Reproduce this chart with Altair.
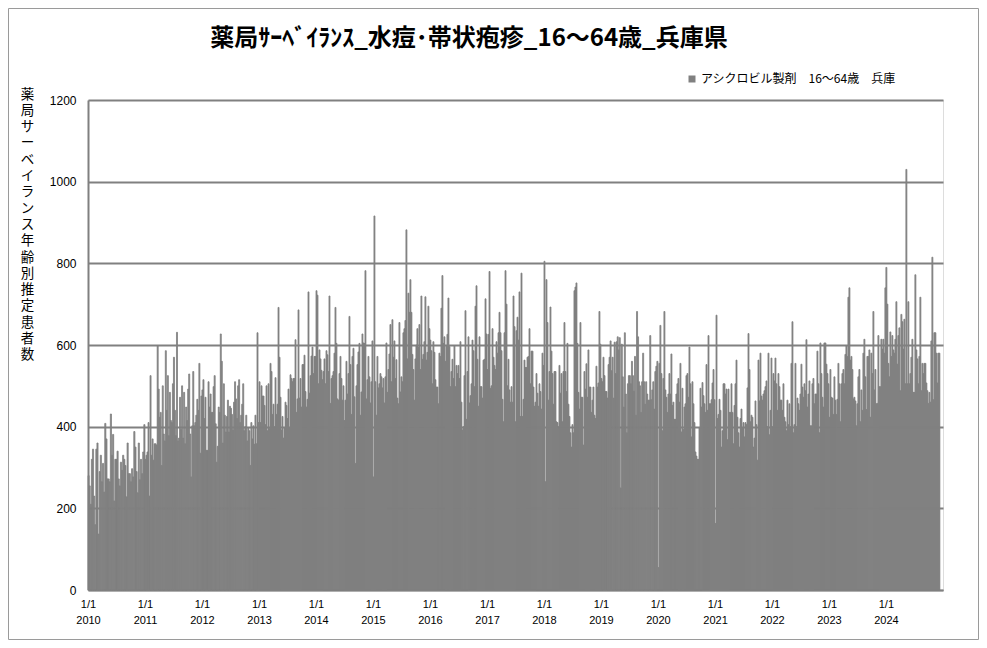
import altair as alt
import pandas as pd
from datetime import datetime, timezone

TITLE = "薬局ｻｰﾍﾞｲﾗﾝｽ_水痘･帯状疱疹_16～64歳_兵庫県"
SERIES = "アシクロビル製剤　16～64歳　兵庫"
Y_TITLE = "薬局サーベイランス年齢別推定患者数"
Y_TICKS = [0, 200, 400, 600, 800, 1000, 1200]
YEARS = list(range(2010, 2025))
LAST_DATE = (2024, 12, 12)

# estimated values, evenly spaced within each year
v2010 = [280, 255, 210, 320, 345, 230, 160, 345, 360, 137, 290, 330, 265, 310, 240, 408, 370, 272, 272, 265,
         431, 330, 381, 218, 320, 320, 340, 272, 255, 313, 293, 330, 320, 305, 228, 360, 285, 285, 265, 297,
         277, 388, 350, 290, 238, 360, 270, 320, 285, 338, 405]
v2011 = [320, 330, 338, 410, 230, 525, 330, 370, 318, 358, 358, 355, 598, 492, 423, 435, 305, 500, 382, 365,
         586, 440, 525, 378, 484, 415, 410, 505, 570, 440, 378, 631, 365, 372, 472, 393, 500, 372, 484, 358,
         448, 415, 492, 529, 382, 277, 402, 535, 402, 410, 428, 467, 440, 555, 335, 475]
v2012 = [490, 515, 420, 472, 342, 342, 510, 448, 480, 435, 435, 498, 525, 407, 313, 352, 448, 435, 627, 560,
         360, 505, 428, 387, 425, 465, 387, 450, 445, 430, 392, 460, 510, 468, 420, 500, 515, 410, 428, 455,
         505, 390, 400, 428, 365, 398, 390, 305, 410, 370, 402, 357, 428, 358, 630, 410]
v2013 = [510, 410, 500, 475, 475, 452, 405, 500, 390, 505, 395, 555, 535, 430, 455, 400, 520, 430, 455, 692,
         570, 472, 392, 425, 372, 398, 460, 452, 420, 492, 398, 527, 518, 510, 518, 518, 613, 435, 468, 686,
         470, 518, 448, 552, 552, 575, 486, 448, 467, 730, 482, 525, 573, 595, 530, 572, 572]
v2014 = [733, 722, 505, 588, 566, 538, 515, 535, 566, 505, 586, 576, 535, 720, 457, 518, 525, 535, 580, 692,
         604, 468, 465, 530, 572, 518, 465, 500, 415, 465, 560, 480, 530, 670, 552, 430, 572, 592, 473, 310,
         500, 552, 583, 604, 428, 485, 627, 605, 604, 782, 468, 515, 572, 522, 458, 510, 610]
v2015 = [277, 916, 510, 428, 572, 495, 505, 530, 522, 495, 518, 458, 522, 605, 484, 540, 578, 650, 510, 662,
         570, 610, 518, 564, 470, 456, 655, 485, 522, 510, 630, 640, 660, 882, 566, 727, 680, 760, 680, 577,
         540, 465, 566, 600, 640, 595, 650, 540, 720, 565, 577, 608, 718, 563, 582, 695, 640]
v2016 = [612, 586, 505, 608, 582, 515, 497, 497, 456, 580, 572, 690, 770, 604, 620, 560, 597, 626, 715, 596,
         498, 535, 565, 518, 598, 498, 550, 530, 550, 518, 608, 460, 392, 400, 525, 684, 418, 535, 620, 458,
         476, 505, 612, 586, 498, 695, 745, 565, 450, 620, 498, 498, 470, 563, 565, 713, 627]
v2017 = [540, 626, 780, 494, 500, 640, 570, 550, 540, 608, 580, 630, 680, 630, 586, 467, 412, 630, 782, 700,
         500, 565, 490, 460, 498, 460, 720, 645, 412, 635, 668, 612, 730, 425, 776, 425, 467, 563, 545, 545,
         570, 572, 640, 505, 585, 585, 497, 450, 460, 530, 482, 450, 505, 486, 443, 580, 550]
v2018 = [805, 265, 760, 655, 465, 535, 693, 585, 530, 455, 535, 535, 412, 410, 400, 550, 482, 530, 412, 535,
         655, 535, 486, 604, 455, 425, 385, 350, 405, 385, 733, 742, 752, 604, 484, 443, 655, 472, 472, 355,
         535, 492, 554, 472, 588, 497, 497, 435, 465, 497, 428, 420, 548, 497, 507, 682, 602]
v2019 = [518, 510, 570, 525, 486, 486, 470, 552, 570, 610, 537, 570, 470, 607, 530, 608, 620, 588, 618, 250,
         602, 522, 448, 630, 480, 385, 505, 525, 525, 505, 560, 525, 487, 572, 428, 682, 620, 510, 500, 435,
         510, 580, 510, 455, 510, 480, 465, 465, 623, 466, 490, 510, 443, 535, 548, 560]
v2020 = [55, 555, 648, 530, 390, 518, 682, 490, 472, 435, 480, 530, 480, 578, 452, 460, 418, 418, 480, 505,
         518, 460, 555, 387, 494, 393, 448, 456, 525, 530, 472, 595, 505, 375, 510, 456, 410, 338, 328, 320,
         320, 398, 494, 448, 508, 476, 456, 435, 552, 440, 623, 456, 456, 466, 507, 540, 466]
v2021 = [163, 673, 420, 430, 467, 440, 350, 390, 505, 505, 480, 492, 368, 492, 435, 435, 505, 435, 358, 452,
         505, 563, 423, 385, 350, 420, 443, 398, 410, 375, 410, 405, 495, 628, 540, 412, 428, 423, 350, 372,
         463, 405, 318, 563, 463, 580, 475, 465, 480, 488, 498, 512, 400, 580, 380, 440, 568]
v2022 = [400, 530, 512, 568, 505, 440, 530, 498, 465, 465, 440, 505, 423, 412, 390, 465, 405, 456, 400, 555,
         657, 385, 405, 555, 400, 470, 456, 440, 480, 553, 497, 472, 505, 488, 613, 448, 480, 512, 402, 402,
         505, 518, 456, 480, 480, 585, 505, 385, 605, 530, 472, 448, 605, 605, 553, 530, 505]
v2023 = [423, 540, 472, 470, 430, 522, 465, 430, 467, 555, 505, 412, 505, 530, 540, 505, 577, 598, 572, 717,
         740, 563, 572, 540, 468, 472, 463, 402, 456, 522, 540, 412, 490, 440, 580, 614, 522, 442, 572, 572,
         588, 423, 580, 530, 682, 490, 540, 456, 457, 623, 498, 498, 614, 590, 614, 580, 740]
v2024 = [790, 700, 555, 522, 632, 572, 623, 588, 580, 614, 706, 553, 623, 642, 488, 675, 657, 590, 663, 505,
         1030, 505, 706, 505, 530, 570, 614, 484, 484, 772, 588, 566, 505, 572, 717, 488, 555, 530, 555, 555,
         507, 488, 457, 484, 460, 610, 815, 466, 630, 630, 580, 507, 580, 580]

VALUES_BY_YEAR = [v2010, v2011, v2012, v2013, v2014, v2015, v2016, v2017, v2018, v2019,
                  v2020, v2021, v2022, v2023, v2024]


def ms(dt):
    return int(dt.timestamp() * 1000)


def utc(y, m, d):
    return datetime(y, m, d, tzinfo=timezone.utc)


rows = []
for year, vals in zip(YEARS, VALUES_BY_YEAR):
    start = utc(year, 1, 1)
    end = utc(year + 1, 1, 1) if year < YEARS[-1] else utc(*LAST_DATE)
    step = (end - start) / len(vals)
    for i, v in enumerate(vals):
        rows.append({"t0": ms(start + i * step), "t1": ms(start + (i + 1) * step),
                     "value": v, "series": SERIES})
df = pd.DataFrame(rows)

x_ticks = [ms(utc(y, 1, 1)) for y in YEARS]
x_domain = [ms(utc(YEARS[0], 1, 1)), ms(utc(YEARS[-1] + 1, 1, 1))]

GRAY = "#808080"

bars = alt.Chart(df).mark_rect(stroke=GRAY, strokeWidth=0.8).encode(
    x=alt.X("t0:T", scale=alt.Scale(type="utc", domain=x_domain),
            axis=alt.Axis(values=x_ticks, title=None, ticks=False, grid=False,
                          labelExpr="[utcFormat(datum.value, '%-m/%-d'), utcFormat(datum.value, '%Y')]",
                          labelFlush=False, labelOverlap=False, labelPadding=8,
                          labelLineHeight=16, labelFontSize=11, labelFont="Liberation Sans",
                          labelColor="black", domainColor=GRAY, domainWidth=1.5)),
    x2="t1:T",
    y=alt.Y("value:Q", scale=alt.Scale(domain=[0, 1200], nice=False),
            axis=alt.Axis(values=Y_TICKS, format="d", ticks=False, grid=True,
                          gridColor=GRAY, gridWidth=2, domainColor=GRAY, domainWidth=2,
                          labelPadding=12, labelFontSize=12, labelFont="Liberation Sans",
                          labelColor="black",
                          title=list(Y_TITLE), titleAngle=0, titleX=-61, titleY=-13,
                          titleBaseline="top", titleAlign="center", titleLineHeight=16.3,
                          titleFontSize=13.5, titleFontWeight="normal",
                          titleFont="Noto Sans CJK JP", titleColor="black")),
    y2=alt.datum(0),
    color=alt.Color("series:N", scale=alt.Scale(range=[GRAY]), title=None,
                    legend=alt.Legend(orient="none", legendX=598, legendY=-27,
                                      symbolType="square", symbolSize=49, symbolStrokeWidth=0,
                                      labelFont="Noto Sans CJK JP", labelFontSize=12,
                                      labelColor="black", labelOffset=3, labelLimit=400,
                                      padding=0)),
)

frame = alt.Chart(pd.DataFrame({"k": [0]})).mark_rect(
    fillOpacity=0, stroke="#9a9a9a", strokeWidth=1
).encode(
    x=alt.value(-79.5), x2=alt.value(890.5), y=alt.value(-91.5), y2=alt.value(539.5)
)

title = alt.Chart(pd.DataFrame({"title": [TITLE]})).mark_text(
    font="Noto Sans CJK JP", fontSize=24, fontWeight="bold", color="black",
    align="center", baseline="middle"
).encode(text="title:N", x=alt.value(381), y=alt.value(-61))

chart = alt.layer(frame, bars, title).properties(
    width=855, height=490,
    autosize=alt.AutoSizeParams(type="none"),
    padding={"left": 80, "top": 92, "right": 36, "bottom": 50},
).configure_view(strokeWidth=0).configure(background="white")

chart.save("out.html", embed_options={"renderer": "svg", "actions": False})
